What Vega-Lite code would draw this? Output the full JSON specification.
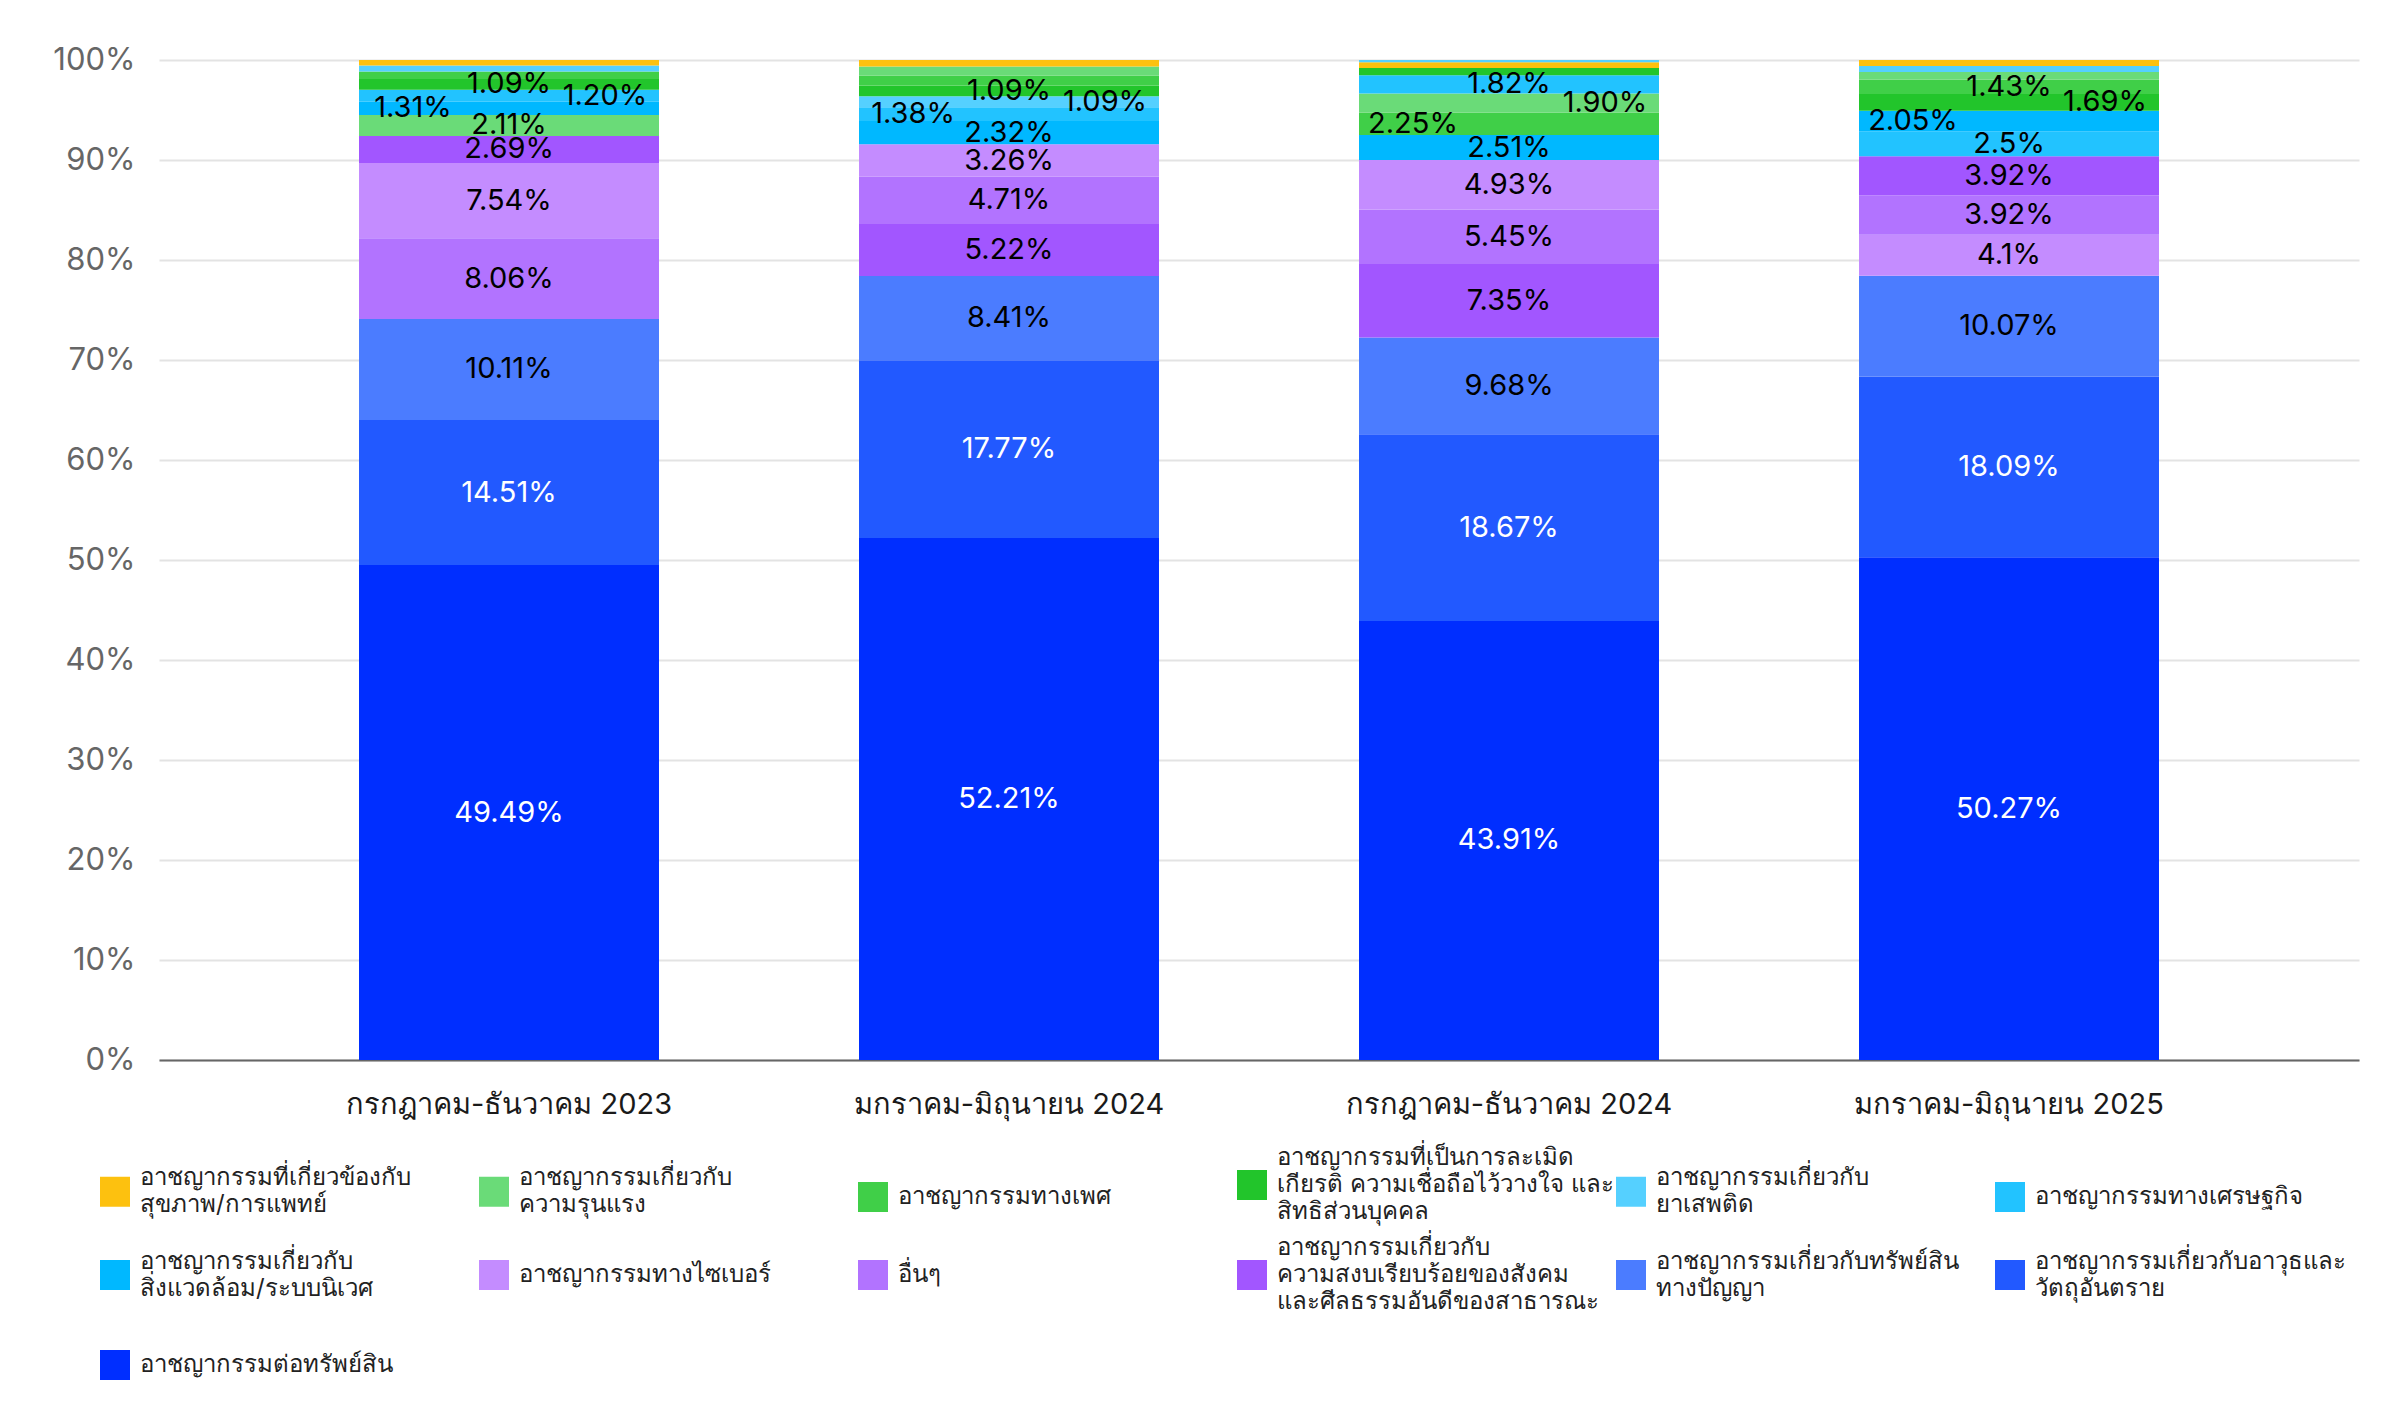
{
  "$schema": "https://vega.github.io/schema/vega-lite/v6.json",
  "width": 2200,
  "height": 1000,
  "autosize": "none",
  "padding": {"left": 159, "top": 60, "right": 41, "bottom": 360},
  "background": "white",
  "config": {
    "font": "Inter",
    "view": {"stroke": null}
  },
  "data": {
    "values": [
      {"period": "กรกฎาคม-ธันวาคม 2023", "category": "อาชญากรรมต่อทรัพย์สิน", "value": 49.49, "label": "49.49%"},
      {"period": "กรกฎาคม-ธันวาคม 2023", "category": "อาชญากรรมเกี่ยวกับอาวุธและวัตถุอันตราย", "value": 14.51, "label": "14.51%"},
      {"period": "กรกฎาคม-ธันวาคม 2023", "category": "อาชญากรรมเกี่ยวกับทรัพย์สินทางปัญญา", "value": 10.11, "label": "10.11%"},
      {"period": "กรกฎาคม-ธันวาคม 2023", "category": "อื่นๆ", "value": 8.06, "label": "8.06%"},
      {"period": "กรกฎาคม-ธันวาคม 2023", "category": "อาชญากรรมทางไซเบอร์", "value": 7.54, "label": "7.54%"},
      {"period": "กรกฎาคม-ธันวาคม 2023", "category": "อาชญากรรมเกี่ยวกับความสงบเรียบร้อยของสังคมและศีลธรรมอันดีของสาธารณะ", "value": 2.69, "label": "2.69%"},
      {"period": "กรกฎาคม-ธันวาคม 2023", "category": "อาชญากรรมเกี่ยวกับความรุนแรง", "value": 2.11, "label": "2.11%"},
      {"period": "กรกฎาคม-ธันวาคม 2023", "category": "อาชญากรรมเกี่ยวกับสิ่งแวดล้อม/ระบบนิเวศ", "value": 1.31, "label": "1.31%"},
      {"period": "กรกฎาคม-ธันวาคม 2023", "category": "อาชญากรรมทางเศรษฐกิจ", "value": 1.2, "label": "1.20%"},
      {"period": "กรกฎาคม-ธันวาคม 2023", "category": "อาชญากรรมที่เป็นการละเมิดเกียรติ ความเชื่อถือไว้วางใจ และสิทธิส่วนบุคคล", "value": 1.09, "label": "1.09%"},
      {"period": "กรกฎาคม-ธันวาคม 2023", "category": "อาชญากรรมทางเพศ", "value": 0.74, "label": ""},
      {"period": "กรกฎาคม-ธันวาคม 2023", "category": "อาชญากรรมเกี่ยวกับยาเสพติด", "value": 0.6, "label": ""},
      {"period": "กรกฎาคม-ธันวาคม 2023", "category": "อาชญากรรมที่เกี่ยวข้องกับสุขภาพ/การแพทย์", "value": 0.55, "label": ""},

      {"period": "มกราคม-มิถุนายน 2024", "category": "อาชญากรรมต่อทรัพย์สิน", "value": 52.21, "label": "52.21%"},
      {"period": "มกราคม-มิถุนายน 2024", "category": "อาชญากรรมเกี่ยวกับอาวุธและวัตถุอันตราย", "value": 17.77, "label": "17.77%"},
      {"period": "มกราคม-มิถุนายน 2024", "category": "อาชญากรรมเกี่ยวกับทรัพย์สินทางปัญญา", "value": 8.41, "label": "8.41%"},
      {"period": "มกราคม-มิถุนายน 2024", "category": "อาชญากรรมเกี่ยวกับความสงบเรียบร้อยของสังคมและศีลธรรมอันดีของสาธารณะ", "value": 5.22, "label": "5.22%"},
      {"period": "มกราคม-มิถุนายน 2024", "category": "อื่นๆ", "value": 4.71, "label": "4.71%"},
      {"period": "มกราคม-มิถุนายน 2024", "category": "อาชญากรรมทางไซเบอร์", "value": 3.26, "label": "3.26%"},
      {"period": "มกราคม-มิถุนายน 2024", "category": "อาชญากรรมเกี่ยวกับสิ่งแวดล้อม/ระบบนิเวศ", "value": 2.32, "label": "2.32%"},
      {"period": "มกราคม-มิถุนายน 2024", "category": "อาชญากรรมทางเศรษฐกิจ", "value": 1.38, "label": "1.38%"},
      {"period": "มกราคม-มิถุนายน 2024", "category": "อาชญากรรมเกี่ยวกับยาเสพติด", "value": 1.094, "label": "1.09%"},
      {"period": "มกราคม-มิถุนายน 2024", "category": "อาชญากรรมที่เป็นการละเมิดเกียรติ ความเชื่อถือไว้วางใจ และสิทธิส่วนบุคคล", "value": 1.086, "label": "1.09%"},
      {"period": "มกราคม-มิถุนายน 2024", "category": "อาชญากรรมทางเพศ", "value": 1.0, "label": ""},
      {"period": "มกราคม-มิถุนายน 2024", "category": "อาชญากรรมเกี่ยวกับความรุนแรง", "value": 0.9, "label": ""},
      {"period": "มกราคม-มิถุนายน 2024", "category": "อาชญากรรมที่เกี่ยวข้องกับสุขภาพ/การแพทย์", "value": 0.64, "label": ""},

      {"period": "กรกฎาคม-ธันวาคม 2024", "category": "อาชญากรรมต่อทรัพย์สิน", "value": 43.91, "label": "43.91%"},
      {"period": "กรกฎาคม-ธันวาคม 2024", "category": "อาชญากรรมเกี่ยวกับอาวุธและวัตถุอันตราย", "value": 18.67, "label": "18.67%"},
      {"period": "กรกฎาคม-ธันวาคม 2024", "category": "อาชญากรรมเกี่ยวกับทรัพย์สินทางปัญญา", "value": 9.68, "label": "9.68%"},
      {"period": "กรกฎาคม-ธันวาคม 2024", "category": "อาชญากรรมเกี่ยวกับความสงบเรียบร้อยของสังคมและศีลธรรมอันดีของสาธารณะ", "value": 7.35, "label": "7.35%"},
      {"period": "กรกฎาคม-ธันวาคม 2024", "category": "อื่นๆ", "value": 5.45, "label": "5.45%"},
      {"period": "กรกฎาคม-ธันวาคม 2024", "category": "อาชญากรรมทางไซเบอร์", "value": 4.93, "label": "4.93%"},
      {"period": "กรกฎาคม-ธันวาคม 2024", "category": "อาชญากรรมเกี่ยวกับสิ่งแวดล้อม/ระบบนิเวศ", "value": 2.51, "label": "2.51%"},
      {"period": "กรกฎาคม-ธันวาคม 2024", "category": "อาชญากรรมทางเพศ", "value": 2.25, "label": "2.25%"},
      {"period": "กรกฎาคม-ธันวาคม 2024", "category": "อาชญากรรมเกี่ยวกับความรุนแรง", "value": 1.9, "label": "1.90%"},
      {"period": "กรกฎาคม-ธันวาคม 2024", "category": "อาชญากรรมทางเศรษฐกิจ", "value": 1.82, "label": "1.82%"},
      {"period": "กรกฎาคม-ธันวาคม 2024", "category": "อาชญากรรมที่เป็นการละเมิดเกียรติ ความเชื่อถือไว้วางใจ และสิทธิส่วนบุคคล", "value": 0.73, "label": ""},
      {"period": "กรกฎาคม-ธันวาคม 2024", "category": "อาชญากรรมที่เกี่ยวข้องกับสุขภาพ/การแพทย์", "value": 0.57, "label": ""},
      {"period": "กรกฎาคม-ธันวาคม 2024", "category": "อาชญากรรมเกี่ยวกับยาเสพติด", "value": 0.23, "label": ""},

      {"period": "มกราคม-มิถุนายน 2025", "category": "อาชญากรรมต่อทรัพย์สิน", "value": 50.27, "label": "50.27%"},
      {"period": "มกราคม-มิถุนายน 2025", "category": "อาชญากรรมเกี่ยวกับอาวุธและวัตถุอันตราย", "value": 18.09, "label": "18.09%"},
      {"period": "มกราคม-มิถุนายน 2025", "category": "อาชญากรรมเกี่ยวกับทรัพย์สินทางปัญญา", "value": 10.07, "label": "10.07%"},
      {"period": "มกราคม-มิถุนายน 2025", "category": "อาชญากรรมทางไซเบอร์", "value": 4.1, "label": "4.1%"},
      {"period": "มกราคม-มิถุนายน 2025", "category": "อื่นๆ", "value": 3.923, "label": "3.92%"},
      {"period": "มกราคม-มิถุนายน 2025", "category": "อาชญากรรมเกี่ยวกับความสงบเรียบร้อยของสังคมและศีลธรรมอันดีของสาธารณะ", "value": 3.917, "label": "3.92%"},
      {"period": "มกราคม-มิถุนายน 2025", "category": "อาชญากรรมทางเศรษฐกิจ", "value": 2.5, "label": "2.5%"},
      {"period": "มกราคม-มิถุนายน 2025", "category": "อาชญากรรมเกี่ยวกับสิ่งแวดล้อม/ระบบนิเวศ", "value": 2.05, "label": "2.05%"},
      {"period": "มกราคม-มิถุนายน 2025", "category": "อาชญากรรมที่เป็นการละเมิดเกียรติ ความเชื่อถือไว้วางใจ และสิทธิส่วนบุคคล", "value": 1.69, "label": "1.69%"},
      {"period": "มกราคม-มิถุนายน 2025", "category": "อาชญากรรมทางเพศ", "value": 1.43, "label": "1.43%"},
      {"period": "มกราคม-มิถุนายน 2025", "category": "อาชญากรรมเกี่ยวกับความรุนแรง", "value": 0.75, "label": ""},
      {"period": "มกราคม-มิถุนายน 2025", "category": "อาชญากรรมเกี่ยวกับยาเสพติด", "value": 0.61, "label": ""},
      {"period": "มกราคม-มิถุนายน 2025", "category": "อาชญากรรมที่เกี่ยวข้องกับสุขภาพ/การแพทย์", "value": 0.6, "label": ""}
    ]
  },
  "transform": [
    {"stack": "value", "groupby": ["period"], "sort": [{"field": "value", "order": "descending"}], "as": ["v0", "v1"]},
    {"window": [{"op": "row_number", "as": "rank"}], "groupby": ["period"], "sort": [{"field": "value", "order": "descending"}]},
    {"calculate": "(datum.v0 + datum.v1) / 2", "as": "mid"}
  ],
  "encoding": {
    "x": {
      "field": "period",
      "type": "nominal",
      "sort": ["กรกฎาคม-ธันวาคม 2023", "มกราคม-มิถุนายน 2024", "กรกฎาคม-ธันวาคม 2024", "มกราคม-มิถุนายน 2025"],
      "scale": {"paddingInner": 0.4, "paddingOuter": 0.4},
      "axis": {
        "title": null,
        "labelAngle": 0,
        "ticks": false,
        "grid": false,
        "domainColor": "#666666",
        "domainWidth": 2,
        "labelFontSize": 29,
        "labelColor": "#1a1a1a",
        "labelLimit": 0,
        "labelPadding": 30
      }
    }
  },
  "layer": [
    {
      "mark": {"type": "bar"},
      "encoding": {
        "y": {
          "field": "v0",
          "type": "quantitative",
          "scale": {"domain": [0, 100]},
          "axis": {
            "title": null,
            "values": [0, 10, 20, 30, 40, 50, 60, 70, 80, 90, 100],
            "labelExpr": "datum.value + '%'",
            "domain": false,
            "ticks": false,
            "labelFontSize": 31,
            "labelColor": "#666666",
            "labelPadding": 24,
            "gridColor": "#e3e3e3",
            "gridWidth": 2
          }
        },
        "y2": {"field": "v1"},
        "color": {
          "field": "category",
          "type": "nominal",
          "scale": {
            "domain": [
              "อาชญากรรมที่เกี่ยวข้องกับสุขภาพ/การแพทย์",
              "อาชญากรรมเกี่ยวกับความรุนแรง",
              "อาชญากรรมทางเพศ",
              "อาชญากรรมที่เป็นการละเมิดเกียรติ ความเชื่อถือไว้วางใจ และสิทธิส่วนบุคคล",
              "อาชญากรรมเกี่ยวกับยาเสพติด",
              "อาชญากรรมทางเศรษฐกิจ",
              "อาชญากรรมเกี่ยวกับสิ่งแวดล้อม/ระบบนิเวศ",
              "อาชญากรรมทางไซเบอร์",
              "อื่นๆ",
              "อาชญากรรมเกี่ยวกับความสงบเรียบร้อยของสังคมและศีลธรรมอันดีของสาธารณะ",
              "อาชญากรรมเกี่ยวกับทรัพย์สินทางปัญญา",
              "อาชญากรรมเกี่ยวกับอาวุธและวัตถุอันตราย",
              "อาชญากรรมต่อทรัพย์สิน"
            ],
            "range": ["#FDC10F", "#6ADB78", "#40CF48", "#22C52B", "#55D0FF", "#22C3FF", "#00B8FF", "#C48CFF", "#B273FF", "#A256FF", "#4B7CFF", "#2259FF", "#002EFF"]
          },
          "legend": {
            "title": null,
            "orient": "none",
            "direction": "horizontal",
            "legendX": -59,
            "legendY": 1110,
            "columns": 6,
            "gridAlign": "all",
            "symbolType": "square",
            "symbolSize": 900,
            "symbolStrokeWidth": 0,
            "symbolOpacity": 1,
            "labelFontSize": 24,
            "labelColor": "#222222",
            "labelLimit": 500,
            "labelOffset": 10,
            "columnPadding": 2,
            "rowPadding": 12,
            "encoding": {
              "labels": {
                "lineHeight": {"value": 27},
                "dy": {"value": {"expr": "indexof(['อาชญากรรมที่เป็นการละเมิดเกียรติ ความเชื่อถือไว้วางใจ และสิทธิส่วนบุคคล', 'อาชญากรรมเกี่ยวกับความสงบเรียบร้อยของสังคมและศีลธรรมอันดีของสาธารณะ'], datum.value) >= 0 ? -27 : indexof(['อาชญากรรมที่เกี่ยวข้องกับสุขภาพ/การแพทย์', 'อาชญากรรมเกี่ยวกับความรุนแรง', 'อาชญากรรมเกี่ยวกับยาเสพติด', 'อาชญากรรมเกี่ยวกับสิ่งแวดล้อม/ระบบนิเวศ', 'อาชญากรรมเกี่ยวกับทรัพย์สินทางปัญญา', 'อาชญากรรมเกี่ยวกับอาวุธและวัตถุอันตราย'], datum.value) >= 0 ? -13.5 : 0"}}
              }
            },
            "labelExpr": "datum.label == 'อาชญากรรมที่เกี่ยวข้องกับสุขภาพ/การแพทย์' ? ['อาชญากรรมที่เกี่ยวข้องกับ', 'สุขภาพ/การแพทย์'] : datum.label == 'อาชญากรรมเกี่ยวกับความรุนแรง' ? ['อาชญากรรมเกี่ยวกับ', 'ความรุนแรง'] : datum.label == 'อาชญากรรมที่เป็นการละเมิดเกียรติ ความเชื่อถือไว้วางใจ และสิทธิส่วนบุคคล' ? ['อาชญากรรมที่เป็นการละเมิด', 'เกียรติ ความเชื่อถือไว้วางใจ และ', 'สิทธิส่วนบุคคล'] : datum.label == 'อาชญากรรมเกี่ยวกับยาเสพติด' ? ['อาชญากรรมเกี่ยวกับ', 'ยาเสพติด'] : datum.label == 'อาชญากรรมเกี่ยวกับสิ่งแวดล้อม/ระบบนิเวศ' ? ['อาชญากรรมเกี่ยวกับ', 'สิ่งแวดล้อม/ระบบนิเวศ'] : datum.label == 'อาชญากรรมเกี่ยวกับความสงบเรียบร้อยของสังคมและศีลธรรมอันดีของสาธารณะ' ? ['อาชญากรรมเกี่ยวกับ', 'ความสงบเรียบร้อยของสังคม', 'และศีลธรรมอันดีของสาธารณะ'] : datum.label == 'อาชญากรรมเกี่ยวกับทรัพย์สินทางปัญญา' ? ['อาชญากรรมเกี่ยวกับทรัพย์สิน', 'ทางปัญญา'] : datum.label == 'อาชญากรรมเกี่ยวกับอาวุธและวัตถุอันตราย' ? ['อาชญากรรมเกี่ยวกับอาวุธและ', 'วัตถุอันตราย'] : datum.label"
          }
        }
      }
    },
    {
      "transform": [{"filter": "datum.label != '' && datum.rank != 8 && datum.rank != 9"}],
      "mark": {"type": "text", "fontSize": 29, "baseline": "middle"},
      "encoding": {
        "y": {"field": "mid", "type": "quantitative"},
        "text": {"field": "label"},
        "color": {
          "condition": {"test": "datum.category == 'อาชญากรรมต่อทรัพย์สิน' || datum.category == 'อาชญากรรมเกี่ยวกับอาวุธและวัตถุอันตราย'", "value": "#ffffff"},
          "value": "#000000"
        }
      }
    },
    {
      "transform": [{"filter": "datum.label != '' && datum.rank == 8"}],
      "mark": {"type": "text", "fontSize": 29, "baseline": "middle", "dx": -96},
      "encoding": {
        "y": {"field": "mid", "type": "quantitative"},
        "text": {"field": "label"},
        "color": {"value": "#000000"}
      }
    },
    {
      "transform": [{"filter": "datum.label != '' && datum.rank == 9"}],
      "mark": {"type": "text", "fontSize": 29, "baseline": "middle", "dx": 96},
      "encoding": {
        "y": {"field": "mid", "type": "quantitative"},
        "text": {"field": "label"},
        "color": {"value": "#000000"}
      }
    }
  ]
}
